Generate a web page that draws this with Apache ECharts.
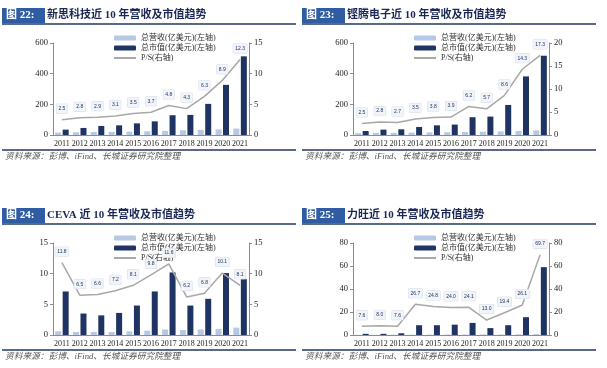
<!DOCTYPE html>
<html>
<head>
<meta charset="utf-8">
<script src="https://cdn.jsdelivr.net/npm/echarts@6/dist/echarts.min.js"></script>
<style>
  html, body { margin: 0; padding: 0; background: #fff; }
  #chart { width: 607px; height: 368px; }
</style>
</head>
<body>
<div id="chart"></div>
<script>
const years = ['2011', '2012', '2013', '2014', '2015', '2016', '2017', '2018', '2019', '2020', '2021'];

// 新思科技
const synRevenue = [15.4, 17.6, 19.6, 20.6, 22.4, 24.2, 27.2, 31.2, 33.6, 36.9, 42.0];
const synCap = [35, 46, 59, 63, 76, 89, 129, 131, 203, 327, 513];
const synPS = [2.5, 2.8, 2.9, 3.1, 3.5, 3.7, 4.8, 4.3, 6.3, 8.9, 12.3];

// 铿腾电子
const cdnRevenue = [11.5, 13.3, 14.6, 15.8, 17.0, 18.2, 19.4, 21.4, 23.4, 26.8, 29.9];
const cdnCap = [26, 35, 37, 52, 63, 68, 116, 120, 196, 382, 517];
const cdnPS = [2.5, 2.8, 2.7, 3.5, 3.8, 3.9, 6.2, 5.7, 8.6, 14.3, 17.3];

// CEVA
const cevaRevenue = [0.6, 0.5, 0.5, 0.5, 0.6, 0.7, 0.9, 0.8, 0.9, 1.0, 1.2];
const cevaCap = [7.1, 3.5, 3.2, 3.6, 4.8, 7.1, 10.2, 4.8, 5.9, 10.1, 9.1];
const cevaPS = [11.8, 6.5, 6.6, 7.2, 8.1, 9.8, 11.6, 6.2, 6.8, 10.1, 8.1];

// 力旺
const emRevenue = [0.15, 0.15, 0.2, 0.3, 0.35, 0.38, 0.43, 0.45, 0.45, 0.6, 0.85];
const emCap = [1.0, 1.0, 1.5, 8.5, 8.5, 9.0, 10.5, 6.0, 8.5, 15.5, 59];
const emPS = [7.6, 8.0, 7.6, 26.7, 24.8, 24.0, 24.1, 13.0, 19.4, 26.1, 69.7];

const legendNames = ['总营收(亿美元)(左轴)', '总市值(亿美元)(左轴)', 'P/S(右轴)'];
const sourceText = '资料来源：彭博、iFind、长城证券研究院整理';

const panels = [
  { num: '图 22:', title: '新思科技近 10 年营收及市值趋势', rev: synRevenue, cap: synCap, ps: synPS, lMax: 600, lInt: 200, rMax: 15, rInt: 5, ox: 0, oy: 0 },
  { num: '图 23:', title: '铿腾电子近 10 年营收及市值趋势', rev: cdnRevenue, cap: cdnCap, ps: cdnPS, lMax: 600, lInt: 200, rMax: 20, rInt: 5, ox: 300, oy: 0 },
  { num: '图 24:', title: 'CEVA 近 10 年营收及市值趋势', rev: cevaRevenue, cap: cevaCap, ps: cevaPS, lMax: 15, lInt: 5, rMax: 15, rInt: 5, ox: 0, oy: 200 },
  { num: '图 25:', title: '力旺近 10 年营收及市值趋势', rev: emRevenue, cap: emCap, ps: emPS, lMax: 80, lInt: 20, rMax: 80, rInt: 20, ox: 300, oy: 200 }
];

const serif = 'Liberation Serif, Noto Sans CJK SC';
const axisColor = '#8c8c8c';
const navy = '#1f3462';
const lightBlue = '#b7c8e4';
const psGray = '#a8a8a8';

const grid = [], xAxis = [], yAxis = [], series = [], legend = [], graphic = [];

panels.forEach((p, i) => {
  grid.push({ left: 53 + p.ox, top: 43 + p.oy, width: 196, height: 92 });
  xAxis.push({
    type: 'category', gridIndex: i, data: years,
    axisLine: { lineStyle: { color: axisColor } },
    axisTick: { length: 3, lineStyle: { color: axisColor } },
    axisLabel: { interval: 0, margin: 5, fontSize: 8, color: '#222', fontFamily: serif }
  });
  const yBase = {
    type: 'value', gridIndex: i, min: 0,
    axisLine: { show: true, lineStyle: { color: axisColor } },
    axisTick: { show: true, length: 3, lineStyle: { color: axisColor } },
    splitLine: { show: false },
    axisLabel: { fontSize: 8.5, margin: 5, color: '#222', fontFamily: serif }
  };
  yAxis.push(Object.assign({}, yBase, { position: 'left', max: p.lMax, interval: p.lInt }));
  yAxis.push(Object.assign({}, yBase, { position: 'right', max: p.rMax, interval: p.rInt }));

  series.push({
    name: legendNames[0], type: 'bar', xAxisIndex: i, yAxisIndex: i * 2,
    data: p.rev, barWidth: 6, barGap: '25%', itemStyle: { color: lightBlue }
  });
  series.push({
    name: legendNames[1], type: 'bar', xAxisIndex: i, yAxisIndex: i * 2,
    data: p.cap, barWidth: 6, barGap: '25%', itemStyle: { color: navy }
  });
  series.push({
    name: legendNames[2], type: 'line', xAxisIndex: i, yAxisIndex: i * 2 + 1,
    data: p.ps, symbol: 'circle', symbolSize: 1, showSymbol: true, z: 5,
    lineStyle: { color: psGray, width: 1.5 }, itemStyle: { color: 'rgba(0,0,0,0)' },
    label: {
      show: true, position: 'top', distance: 6, opacity: 1,
      formatter: d => d.value.toFixed(1),
      fontSize: 5, color: '#1f3462', fontFamily: 'Liberation Sans',
      backgroundColor: '#f1f4f9', borderColor: '#d5dbe6', borderWidth: 0.5,
      padding: [2, 2]
    }
  });

  legend.push({
    data: legendNames, orient: 'vertical',
    left: 108 + p.ox, top: 29 + p.oy,
    itemWidth: 22, itemHeight: 5, itemGap: 2,
    textStyle: { fontSize: 8, lineHeight: 8, color: '#333', fontFamily: serif }
  });

  // title bar
  graphic.push({ type: 'rect', shape: { x: 2 + p.ox, y: 8 + p.oy, width: 43, height: 15 }, style: { fill: '#2f5ca3' } });
  graphic.push({ type: 'text', x: 6 + p.ox, y: 15.5 + p.oy, style: { text: p.num, fill: '#fff', font: 'bold 11px ' + serif, verticalAlign: 'middle' } });
  graphic.push({ type: 'text', x: 47 + p.ox, y: 15.5 + p.oy, style: { text: p.title, fill: '#1b2856', font: 'bold 11px ' + serif, verticalAlign: 'middle' } });
  graphic.push({ type: 'line', shape: { x1: 2 + p.ox, y1: 24 + p.oy, x2: 296 + p.ox, y2: 24 + p.oy }, style: { stroke: '#1f3864', lineWidth: 1.5 } });
  // footer
  graphic.push({ type: 'line', shape: { x1: 2 + p.ox, y1: 150 + p.oy, x2: 296 + p.ox, y2: 150 + p.oy }, style: { stroke: '#1f3864', lineWidth: 1.5 } });
  graphic.push({ type: 'text', x: 5 + p.ox, y: 157 + p.oy, style: { text: sourceText, fill: '#555', font: 'italic 8.7px ' + serif, verticalAlign: 'middle' } });
});

const chart = echarts.init(document.getElementById('chart'));
chart.setOption({
  animation: false,
  backgroundColor: '#fff',
  grid, xAxis, yAxis, series, legend, graphic
});
</script>
</body>
</html>
